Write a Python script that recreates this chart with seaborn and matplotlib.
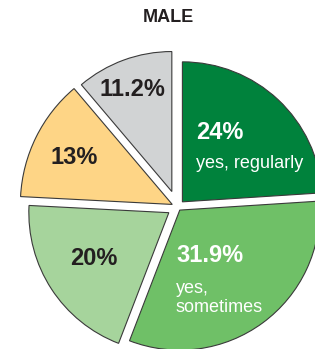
import matplotlib
matplotlib.use("Agg")
import matplotlib.pyplot as plt
import seaborn as sns

# data
groups = ["yes, regularly", "yes, sometimes", "no, rarely", "no, never", "no answer"]
shares = [24, 31.9, 20, 13, 11.2]
pct_labels = ["24%", "31.9%", "20%", "13%", "11.2%"]
sub_labels = ["yes, regularly", "yes,\nsometimes", "", "", ""]
colors = ["#00823c", "#6fc067", "#a6d49c", "#fed586", "#d1d3d4"]
text_colors = ["white", "white", "#231f20", "#231f20", "#231f20"]

sns.set_theme(style="white")
plt.rcParams['font.family'] = ['Liberation Sans', 'DejaVu Sans']

fig = plt.figure(figsize=(3.15, 3.49), dpi=100)
ax = fig.add_axes([0, 0, 1, 1])

explode = [0.051, 0.027, 0.074, 0.042, 0.118]
wedges, _ = ax.pie(shares, colors=colors, explode=explode, startangle=90,
                   counterclock=False, radius=1,
                   wedgeprops=dict(edgecolor="#3a3a3a", linewidth=0.8))
# the orange slice is drawn a bit larger in the original
wedges[3].set_radius(1.085)

ax.set_aspect("equal")
ax.set_xlim(-1.268, 0.982)
ax.set_ylim(-1.014, 1.479)
ax.axis("off")

# label layout (data units relative to pie centre)
pct_pos = [(0.132, 0.536, "left"), (-0.011, -0.343, "left"), (-0.596, -0.364, "center"),
           (-0.739, 0.357, "center"), (-0.325, 0.843, "center")]
sub_pos = [(0.132, 0.279), (-0.011, -0.75), None, None, None]

for i in range(len(shares)):
    x, y, ha = pct_pos[i]
    ax.text(x, y, pct_labels[i], ha=ha, va="center", fontsize=17,
            fontweight="bold", color=text_colors[i])
    if sub_labels[i]:
        sx, sy = sub_pos[i]
        ax.text(sx, sy, sub_labels[i], ha="left", va="baseline", fontsize=13,
                color=text_colors[i], linespacing=1.15)

fig.text(0.536, 0.951, "MALE", ha="center", va="center", fontsize=13,
         fontweight="bold", color="#231f20")

fig.savefig("out.png", dpi=100)
